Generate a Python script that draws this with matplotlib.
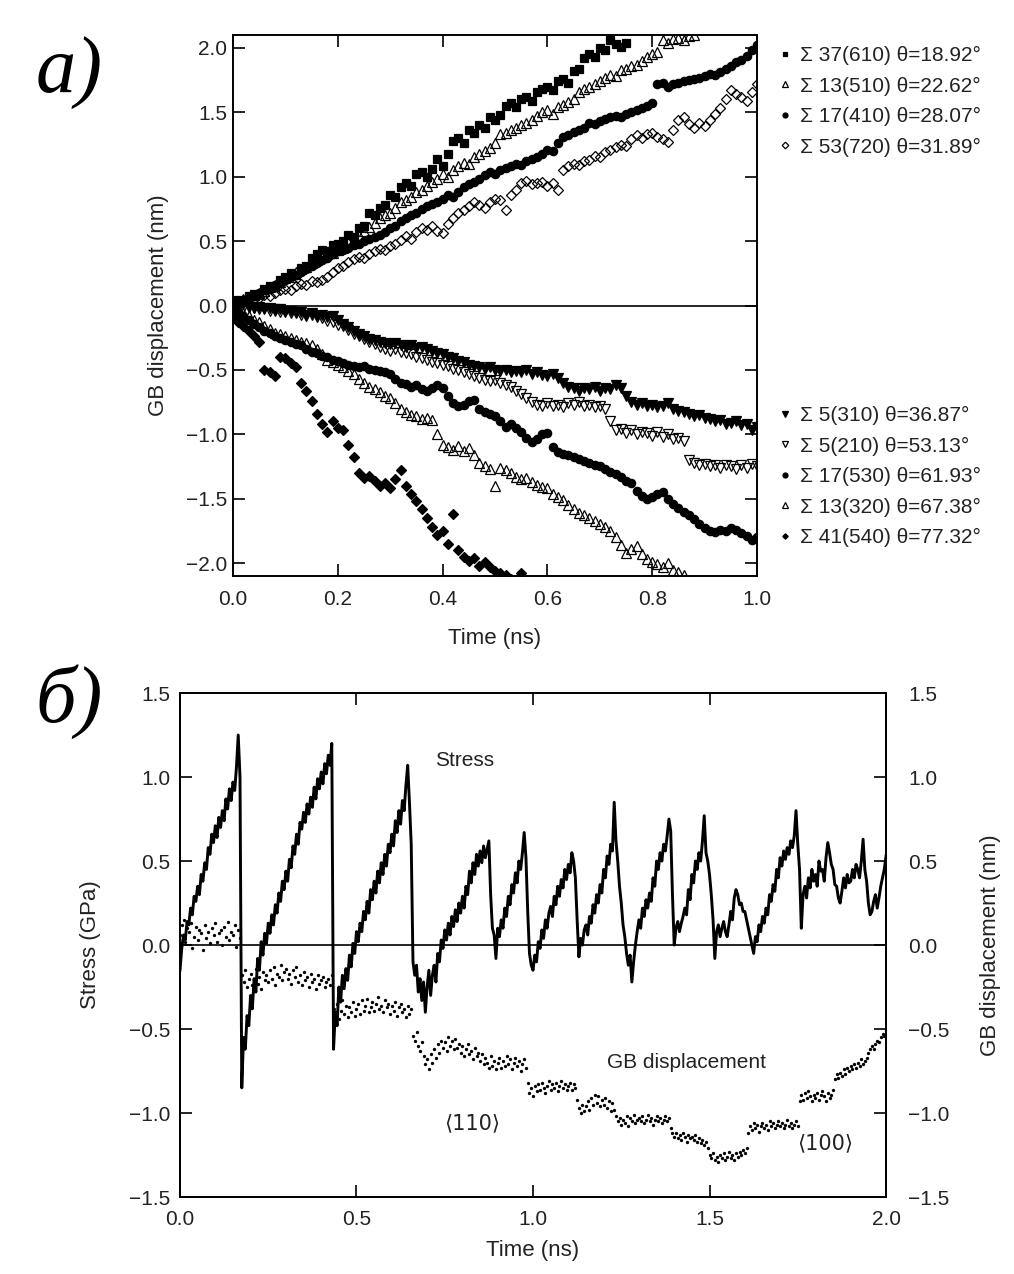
import matplotlib
matplotlib.use("Agg")
import matplotlib.pyplot as plt
import numpy as np
from matplotlib.ticker import FuncFormatter

plt.rcParams["font.family"] = ["Liberation Sans", "DejaVu Sans"]

# ── panel a: GB displacement (nm), sampled every 0.01 ns ──────────────────────
s37_610 = [0.02, 0.04, 0.03, 0.07, 0.09, 0.08, 0.13, 0.15, 0.14, 0.20,
           0.22, 0.25, 0.24, 0.29, 0.31, 0.37, 0.40, 0.43, 0.42, 0.47,
           0.48, 0.50, 0.55, 0.53, 0.60, 0.62, 0.72, 0.70, 0.76, 0.78,
           0.86, 0.84, 0.92, 0.95, 0.93, 1.02, 1.04, 1.00, 1.06, 1.14,
           1.08, 1.18, 1.28, 1.30, 1.26, 1.36, 1.34, 1.40, 1.38, 1.46,
           1.44, 1.48, 1.55, 1.57, 1.54, 1.60, 1.62, 1.59, 1.66, 1.68,
           1.70, 1.67, 1.74, 1.76, 1.73, 1.82, 1.84, 1.92, 1.95, 1.93,
           2.00, 1.98, 2.06, 2.03, 2.01, 2.04]
s13_510 = [0.01, 0.03, 0.05, 0.04, 0.08, 0.10, 0.11, 0.14, 0.16, 0.18,
           0.21, 0.22, 0.26, 0.28, 0.30, 0.33, 0.35, 0.38, 0.40, 0.41,
           0.43, 0.45, 0.49, 0.52, 0.55, 0.58, 0.61, 0.64, 0.68, 0.70,
           0.72, 0.76, 0.80, 0.82, 0.84, 0.88, 0.90, 0.93, 0.96, 0.98,
           1.02, 1.00, 1.05, 1.08, 1.11, 1.10, 1.15, 1.18, 1.20, 1.22,
           1.26, 1.33, 1.34, 1.36, 1.38, 1.40, 1.42, 1.44, 1.47, 1.50,
           1.52, 1.49, 1.54, 1.56, 1.58, 1.60, 1.66, 1.68, 1.70, 1.72,
           1.74, 1.77, 1.79, 1.78, 1.83, 1.84, 1.86, 1.87, 1.90, 1.93,
           1.95, 1.97, 2.06, 2.04, 2.07, 2.08, 2.06, 2.09, 2.10]
s17_410 = [0.00, 0.02, 0.04, 0.06, 0.07, 0.10, 0.12, 0.13, 0.16, 0.18,
           0.20, 0.22, 0.24, 0.26, 0.28, 0.31, 0.33, 0.35, 0.37, 0.40,
           0.42, 0.43, 0.45, 0.47, 0.48, 0.50, 0.52, 0.53, 0.55, 0.57,
           0.60, 0.62, 0.66, 0.68, 0.70, 0.72, 0.75, 0.77, 0.79, 0.80,
           0.83, 0.86, 0.84, 0.88, 0.92, 0.94, 0.96, 0.98, 1.01, 1.04,
           1.02, 1.05, 1.07, 1.08, 1.10, 1.09, 1.12, 1.14, 1.15, 1.18,
           1.21, 1.20, 1.26, 1.31, 1.32, 1.35, 1.36, 1.38, 1.42, 1.41,
           1.43, 1.45, 1.46, 1.47, 1.46, 1.49, 1.50, 1.52, 1.53, 1.55,
           1.57, 1.72, 1.73, 1.70, 1.72, 1.73, 1.74, 1.75, 1.76, 1.77,
           1.78, 1.80, 1.79, 1.81, 1.84, 1.86, 1.89, 1.91, 1.94, 1.98, 2.02]
s53_720 = [0.00, 0.01, 0.03, 0.02, 0.05, 0.06, 0.08, 0.07, 0.10, 0.12,
           0.13, 0.12, 0.15, 0.17, 0.16, 0.19, 0.18, 0.20, 0.22, 0.26,
           0.29, 0.31, 0.34, 0.36, 0.38, 0.37, 0.40, 0.42, 0.44, 0.43,
           0.46, 0.48, 0.51, 0.54, 0.52, 0.57, 0.60, 0.59, 0.62, 0.58,
           0.56, 0.63, 0.68, 0.72, 0.74, 0.77, 0.80, 0.78, 0.76, 0.80,
           0.83, 0.82, 0.74, 0.86, 0.90, 0.95, 0.97, 0.94, 0.95, 0.96,
           0.93, 0.95, 0.90, 1.05, 1.08, 1.10, 1.09, 1.12, 1.13, 1.16,
           1.15, 1.19, 1.21, 1.23, 1.25, 1.24, 1.29, 1.32, 1.30, 1.33,
           1.34, 1.31, 1.29, 1.27, 1.36, 1.44, 1.46, 1.41, 1.38, 1.42,
           1.39, 1.44, 1.49, 1.53, 1.60, 1.67, 1.64, 1.62, 1.59, 1.66, 1.72]
s5_310 = [0.00, -0.01, 0.01, -0.01, -0.02, -0.01, -0.03, -0.02, -0.04, -0.03,
          -0.05, -0.04, -0.06, -0.05, -0.07, -0.06, -0.08, -0.07, -0.09, -0.08,
          -0.11, -0.14, -0.17, -0.20, -0.22, -0.24, -0.26, -0.27, -0.28, -0.29,
          -0.30, -0.29, -0.31, -0.32, -0.31, -0.33, -0.32, -0.34, -0.35, -0.37,
          -0.38, -0.40, -0.41, -0.43, -0.44, -0.46, -0.47, -0.48, -0.49, -0.48,
          -0.50, -0.51, -0.50, -0.52, -0.51, -0.52, -0.50, -0.53, -0.52, -0.54,
          -0.55, -0.53, -0.56, -0.60, -0.63, -0.64, -0.66, -0.64, -0.65, -0.63,
          -0.66, -0.64, -0.65, -0.62, -0.64, -0.70, -0.75, -0.77, -0.76, -0.78,
          -0.77, -0.79, -0.78, -0.76, -0.80, -0.82, -0.83, -0.84, -0.86, -0.85,
          -0.87, -0.88, -0.90, -0.89, -0.92, -0.91, -0.90, -0.93, -0.92, -0.97, -0.94]
s5_210 = [-0.01, 0.00, -0.02, -0.01, -0.02, -0.03, -0.02, -0.04, -0.03, -0.05,
          -0.04, -0.06, -0.05, -0.07, -0.08, -0.07, -0.09, -0.10, -0.12, -0.13,
          -0.15, -0.16, -0.19, -0.22, -0.24, -0.26, -0.28, -0.30, -0.32, -0.34,
          -0.35, -0.34, -0.36, -0.37, -0.38, -0.40, -0.41, -0.42, -0.44, -0.45,
          -0.46, -0.47, -0.49, -0.50, -0.52, -0.53, -0.55, -0.56, -0.58, -0.59,
          -0.58, -0.60, -0.62, -0.63, -0.66, -0.69, -0.72, -0.75, -0.77, -0.78,
          -0.76, -0.78, -0.77, -0.79, -0.76, -0.77, -0.75, -0.78, -0.77, -0.79,
          -0.78, -0.80, -0.90, -0.97, -0.96, -0.99, -0.97, -1.00, -0.98, -0.99,
          -1.01, -0.98, -1.02, -1.00, -1.04, -1.03, -1.05, -1.20, -1.22, -1.24,
          -1.23, -1.25, -1.24, -1.26, -1.24, -1.25, -1.27, -1.24, -1.26, -1.23, -1.25]
s17_530 = [-0.02, -0.05, -0.08, -0.11, -0.14, -0.17, -0.20, -0.21, -0.24, -0.25,
           -0.27, -0.28, -0.30, -0.31, -0.34, -0.36, -0.37, -0.39, -0.40, -0.42,
           -0.43, -0.45, -0.46, -0.47, -0.48, -0.47, -0.49, -0.50, -0.51, -0.52,
           -0.53, -0.57, -0.60, -0.61, -0.63, -0.62, -0.65, -0.66, -0.64, -0.62,
           -0.64, -0.70, -0.76, -0.78, -0.77, -0.74, -0.73, -0.80, -0.83, -0.84,
           -0.86, -0.90, -0.94, -0.92, -0.95, -0.98, -1.03, -1.06, -1.04, -1.00,
           -0.99, -1.10, -1.14, -1.15, -1.16, -1.18, -1.19, -1.21, -1.22, -1.24,
           -1.25, -1.27, -1.29, -1.31, -1.33, -1.36, -1.38, -1.44, -1.48, -1.50,
           -1.49, -1.46, -1.45, -1.50, -1.54, -1.57, -1.60, -1.63, -1.66, -1.70,
           -1.73, -1.75, -1.76, -1.74, -1.75, -1.73, -1.74, -1.77, -1.79, -1.82, -1.80]
s13_320 = [-0.01, -0.03, -0.06, -0.08, -0.11, -0.13, -0.16, -0.18, -0.21, -0.22,
           -0.24, -0.25, -0.27, -0.28, -0.29, -0.31, -0.34, -0.38, -0.42, -0.44,
           -0.46, -0.48, -0.51, -0.53, -0.57, -0.60, -0.63, -0.65, -0.67, -0.70,
           -0.72, -0.76, -0.80, -0.83, -0.85, -0.86, -0.88, -0.87, -0.89, -1.00,
           -1.08, -1.10, -1.12, -1.09, -1.13, -1.11, -1.16, -1.22, -1.25, -1.27,
           -1.40, -1.26, -1.28, -1.30, -1.33, -1.35, -1.34, -1.37, -1.39, -1.41,
           -1.42, -1.46, -1.49, -1.51, -1.55, -1.58, -1.61, -1.63, -1.65, -1.67,
           -1.70, -1.72, -1.75, -1.80, -1.86, -1.92, -1.89, -1.87, -1.93, -1.97,
           -1.99, -2.01, -2.03, -2.00, -2.05, -2.07, -2.09]
s41_540 = [-0.10, -0.13, -0.16, -0.20, -0.24, -0.28, -0.50, -0.52, -0.55, -0.40,
           -0.41, -0.45, -0.48, -0.60, -0.66, -0.74, -0.84, -0.92, -0.98, -0.90,
           -0.95, -0.97, -1.08, -1.18, -1.30, -1.34, -1.32, -1.36, -1.40, -1.38,
           -1.42, -1.35, -1.28, -1.40, -1.46, -1.52, -1.58, -1.65, -1.72, -1.78,
           -1.75, -1.85, -1.62, -1.90, -1.95, -1.98, -1.96, -2.02, -1.99, -2.03,
           -2.06, -2.08, -2.09, -2.12, -2.15, -2.08]

labels_a = ["Σ 37(610) θ=18.92°", "Σ 13(510) θ=22.62°", "Σ 17(410) θ=28.07°",
            "Σ 53(720) θ=31.89°", "Σ 5(310) θ=36.87°", "Σ 5(210) θ=53.13°",
            "Σ 17(530) θ=61.93°", "Σ 13(320) θ=67.38°", "Σ 41(540) θ=77.32°"]
series_a = [s37_610, s13_510, s17_410, s53_720, s5_310, s5_210, s17_530, s13_320, s41_540]

# ── panel б: stress (GPa) and GB displacement (nm), every 0.005 ns ─────────────
stress = [
    -0.15, -0.02, 0.06, 0.03, 0.14, 0.12, 0.22, 0.18, 0.29, 0.26,
    0.35, 0.30, 0.42, 0.38, 0.49, 0.45, 0.58, 0.54, 0.66, 0.61,
    0.71, 0.64, 0.76, 0.70, 0.80, 0.74, 0.87, 0.81, 0.93, 0.86,
    0.97, 0.92, 1.06, 1.25, 1.00, -0.85, -0.55, -0.62, -0.42, -0.48,
    -0.30, -0.38, -0.20, -0.28, -0.08, -0.15, 0.02, -0.06, 0.07, 0.01,
    0.13, 0.07, 0.18, 0.12, 0.24, 0.19, 0.31, 0.26, 0.38, 0.33,
    0.44, 0.38, 0.51, 0.46, 0.59, 0.54, 0.66, 0.60, 0.73, 0.69,
    0.79, 0.73, 0.84, 0.78, 0.88, 0.82, 0.94, 0.87, 0.99, 0.93,
    1.03, 0.96, 1.08, 1.02, 1.13, 1.07, 1.20, -0.62, -0.40, -0.48,
    -0.25, -0.34, -0.18, -0.26, -0.14, -0.21, -0.06, -0.13, 0.01, -0.05,
    0.08, 0.02, 0.13, 0.08, 0.20, 0.15, 0.26, 0.19, 0.33, 0.27,
    0.38, 0.31, 0.44, 0.37, 0.49, 0.42, 0.54, 0.47, 0.60, 0.55,
    0.66, 0.59, 0.74, 0.67, 0.80, 0.72, 0.86, 0.80, 0.95, 1.07,
    0.85, 0.60, -0.10, -0.18, -0.12, -0.28, -0.20, -0.33, -0.22, -0.40,
    -0.25, -0.15, -0.30, -0.18, -0.12, -0.22, -0.05, -0.10, 0.03, -0.02,
    0.09, 0.03, 0.13, 0.06, 0.17, 0.11, 0.21, 0.14, 0.25, 0.19,
    0.29, 0.22, 0.35, 0.30, 0.44, 0.37, 0.49, 0.42, 0.54, 0.47,
    0.56, 0.49, 0.59, 0.52, 0.57, 0.62, 0.30, 0.10, 0.06, -0.08,
    0.10, 0.05, 0.15, 0.10, 0.22, 0.17, 0.29, 0.24, 0.36, 0.31,
    0.43, 0.37, 0.50, 0.45, 0.55, 0.67, 0.52, 0.20, -0.05, -0.12,
    -0.15, -0.06, -0.10, 0.02, -0.02, 0.09, 0.04, 0.15, 0.10, 0.19,
    0.23, 0.17, 0.29, 0.24, 0.35, 0.29, 0.39, 0.34, 0.45, 0.39,
    0.48, 0.43, 0.55, 0.50, 0.40, 0.15, -0.07, 0.04, 0.00, 0.09,
    0.12, 0.06, 0.17, 0.13, 0.24, 0.19, 0.30, 0.25, 0.36, 0.31,
    0.45, 0.40, 0.53, 0.48, 0.60, 0.56, 0.85, 0.62, 0.50, 0.35,
    0.25, 0.12, 0.05, -0.05, -0.12, -0.06, -0.22, -0.10, 0.00, 0.08,
    0.15, 0.10, 0.22, 0.17, 0.27, 0.22, 0.31, 0.26, 0.40, 0.35,
    0.50, 0.45, 0.55, 0.50, 0.60, 0.56, 0.65, 0.75, 0.68, 0.30,
    0.00, 0.10, 0.14, 0.08, 0.13, 0.17, 0.22, 0.18, 0.33, 0.27,
    0.42, 0.37, 0.50, 0.45, 0.55, 0.50, 0.62, 0.77, 0.55, 0.50,
    0.42, 0.30, 0.15, -0.08, 0.08, 0.12, 0.05, 0.10, 0.14, 0.08,
    0.05, 0.12, 0.20, 0.15, 0.28, 0.33, 0.30, 0.24, 0.25, 0.20,
    0.20, 0.15, 0.10, 0.05, 0.00, -0.05, 0.05, 0.02, 0.12, 0.08,
    0.17, 0.13, 0.22, 0.18, 0.30, 0.26, 0.36, 0.32, 0.45, 0.40,
    0.52, 0.47, 0.56, 0.51, 0.58, 0.54, 0.62, 0.58, 0.65, 0.80,
    0.60, 0.45, 0.10, 0.30, 0.35, 0.28, 0.40, 0.34, 0.45, 0.38,
    0.42, 0.35, 0.50, 0.44, 0.45, 0.38, 0.52, 0.61, 0.55, 0.48,
    0.45, 0.36, 0.35, 0.28, 0.25, 0.32, 0.40, 0.34, 0.42, 0.37,
    0.38, 0.45, 0.40, 0.48, 0.45, 0.40, 0.50, 0.63, 0.45, 0.38,
    0.25, 0.18, 0.20, 0.26, 0.30, 0.22, 0.28, 0.35, 0.40, 0.45,
    0.53]
gb_disp = [
    0.06, 0.12, 0.15, 0.02, 0.10, 0.08, 0.13, -0.02, 0.05, 0.11,
    0.03, 0.09, 0.07, -0.03, 0.12, 0.04, 0.08, 0.01, 0.10, 0.06,
    0.13, 0.02, 0.07, 0.09, 0.00, 0.11, 0.05, 0.14, 0.03, 0.08,
    0.06, 0.12, -0.01, 0.09, 0.04, -0.18, -0.22, -0.15, -0.25, -0.20,
    -0.17, -0.24, -0.21, -0.14, -0.23, -0.19, -0.26, -0.16, -0.21, -0.18,
    -0.22, -0.15, -0.20, -0.13, -0.24, -0.17, -0.19, -0.12, -0.21, -0.16,
    -0.14, -0.20, -0.17, -0.23, -0.15, -0.19, -0.13, -0.22, -0.18, -0.24,
    -0.16, -0.21, -0.19, -0.25, -0.17, -0.22, -0.20, -0.26, -0.18, -0.23,
    -0.21, -0.19, -0.25, -0.22, -0.20, -0.24, -0.18, -0.38, -0.42, -0.35,
    -0.44, -0.39, -0.33, -0.41, -0.36, -0.43, -0.37, -0.40, -0.34, -0.42,
    -0.38, -0.35, -0.41, -0.33, -0.39, -0.36, -0.32, -0.40, -0.37, -0.34,
    -0.39, -0.35, -0.31, -0.38, -0.36, -0.40, -0.33, -0.37, -0.35, -0.41,
    -0.36, -0.39, -0.34, -0.42, -0.37, -0.35, -0.40, -0.38, -0.43, -0.36,
    -0.41, -0.38, -0.54, -0.57, -0.52, -0.60, -0.63, -0.58, -0.66, -0.71,
    -0.68, -0.74, -0.65, -0.70, -0.62, -0.67, -0.59, -0.64, -0.57, -0.61,
    -0.58, -0.63, -0.55, -0.60, -0.57, -0.62, -0.56, -0.61, -0.59, -0.64,
    -0.60, -0.66, -0.62, -0.59, -0.65, -0.63, -0.68, -0.61, -0.66, -0.64,
    -0.69, -0.65, -0.71, -0.67, -0.70, -0.73, -0.66, -0.72, -0.69, -0.74,
    -0.70, -0.67, -0.73, -0.69, -0.72, -0.66, -0.71, -0.68, -0.74, -0.70,
    -0.67, -0.72, -0.69, -0.75, -0.71, -0.68, -0.73, -0.82, -0.88, -0.85,
    -0.90, -0.84, -0.87, -0.83, -0.86, -0.82, -0.85, -0.88, -0.84, -0.81,
    -0.86, -0.83, -0.85, -0.82, -0.87, -0.84, -0.81, -0.85, -0.83, -0.86,
    -0.84, -0.82, -0.86, -0.83, -0.85, -0.92, -0.97, -1.00, -0.95, -0.99,
    -0.96, -0.93, -0.98, -0.91, -0.95, -0.89, -0.94, -0.90, -0.96, -0.92,
    -0.95, -0.91, -0.97, -0.93, -0.99, -0.94, -0.98, -1.02, -1.05, -1.03,
    -1.07, -1.04, -1.06, -1.02, -1.08, -1.03, -1.05, -1.01, -1.06, -1.04,
    -1.03, -1.05, -1.02, -1.06, -1.04, -1.01, -1.05, -1.03, -1.07, -1.04,
    -1.02, -1.05, -1.03, -1.06, -1.04, -1.02, -1.05, -1.03, -1.09, -1.12,
    -1.14, -1.12, -1.15, -1.13, -1.16, -1.12, -1.14, -1.17, -1.13, -1.15,
    -1.14, -1.16, -1.13, -1.17, -1.15, -1.18, -1.16, -1.19, -1.17, -1.21,
    -1.25, -1.27, -1.24, -1.28, -1.26, -1.29, -1.25, -1.27, -1.24, -1.28,
    -1.26, -1.23, -1.27, -1.25, -1.28, -1.24, -1.26, -1.23, -1.25, -1.22,
    -1.24, -1.21, -1.12, -1.08, -1.10, -1.06, -1.09, -1.07, -1.11, -1.08,
    -1.06, -1.09, -1.07, -1.10, -1.05, -1.08, -1.06, -1.09, -1.07, -1.05,
    -1.08, -1.06, -1.09, -1.07, -1.04, -1.08, -1.06, -1.09, -1.07, -1.05,
    -1.08, -0.93, -0.89, -0.92, -0.88, -0.91, -0.87, -0.90, -0.93, -0.89,
    -0.91, -0.88, -0.92, -0.89, -0.87, -0.90, -0.93, -0.88, -0.91, -0.89,
    -0.86, -0.80, -0.77, -0.79, -0.76, -0.78, -0.74, -0.77, -0.73, -0.75,
    -0.72, -0.74, -0.71, -0.73, -0.70, -0.72, -0.68, -0.71, -0.69, -0.67,
    -0.64, -0.62, -0.60, -0.62, -0.59, -0.57, -0.58, -0.55, -0.53, -0.54,
    -0.51]

t_a = np.arange(101) * 0.01
t_b = np.arange(len(stress)) * 0.005

TXT = "#222222"
FS = 15
fmt = FuncFormatter(lambda v, _: f"{v:.1f}".replace("-", "\u2212"))

fig = plt.figure(figsize=(10.14, 12.74), dpi=100)


def style(ax):
    for sp in ax.spines.values():
        sp.set_linewidth(1.4)
    ax.tick_params(direction="in", length=8.5, width=1.2, labelsize=FS,
                   labelcolor=TXT)


# ── panel a ────────────────────────────────────────────────────────────────────
ax = fig.add_axes([0.2298, 0.5479, 0.5168, 0.4246])
markers = [
    dict(marker="s", ms=6.0, mfc="black"),
    dict(marker="^", ms=7.0, mfc="none"),
    dict(marker="o", ms=6.0, mfc="black"),
    dict(marker="D", ms=5.6, mfc="none"),
    dict(marker="v", ms=7.0, mfc="black"),
    dict(marker="v", ms=7.0, mfc="none"),
    dict(marker="o", ms=6.0, mfc="black"),
    dict(marker="^", ms=7.0, mfc="none"),
    dict(marker="D", ms=4.6, mfc="black"),
]
lines = []
for y, lab, mk in zip(series_a, labels_a, markers):
    ln, = ax.plot(t_a[:len(y)], y, ls="none", mec="black", mew=0.9,
                  label=lab, **mk)
    lines.append(ln)
ax.axhline(0, color="black", lw=1.2)
ax.set_xlim(0, 1.0)
ax.set_ylim(-2.1, 2.1)
ax.set_xticks(np.arange(0, 1.01, 0.2))
ax.set_yticks(np.arange(-2.0, 2.01, 0.5))
ax.xaxis.set_major_formatter(fmt)
ax.yaxis.set_major_formatter(fmt)
style(ax)
ax.tick_params(top=True, right=True)
ax.tick_params(axis="y", pad=4)
ax.tick_params(axis="x", pad=10)
ax.set_xlabel("Time (ns)", fontsize=16, color=TXT, labelpad=14)
ax.set_ylabel("GB displacement (nm)", fontsize=16, color=TXT, labelpad=12)

leg_kw = dict(loc="upper left", bbox_transform=fig.transFigure, frameon=False,
              borderpad=0, borderaxespad=0, handlelength=0.7,
              handletextpad=0.35, labelspacing=0.55, markerscale=0.6,
              fontsize=FS, labelcolor=TXT)
leg1 = ax.legend(handles=lines[:4], bbox_to_anchor=(778 / 1014, 1 - 46 / 1274), **leg_kw)
ax.add_artist(leg1)
ax.legend(handles=lines[4:], bbox_to_anchor=(778 / 1014, 1 - 406 / 1274), **leg_kw)

# ── panel б ────────────────────────────────────────────────────────────────────
axb = fig.add_axes([0.1775, 0.0604, 0.6963, 0.3956])
axb.plot(t_b, stress, color="black", lw=2.1)
axb.axhline(0, color="black", lw=1.2)
axb.set_xlim(0, 2.0)
axb.set_ylim(-1.5, 1.5)
axb.set_xticks(np.arange(0, 2.01, 0.5))
axb.set_yticks(np.arange(-1.5, 1.51, 0.5))
axb.xaxis.set_major_formatter(fmt)
axb.yaxis.set_major_formatter(fmt)
style(axb)
axb.tick_params(top=True, right=False)
axb.tick_params(axis="y", pad=7)
axb.tick_params(axis="x", pad=9)
axb.set_xlabel("Time (ns)", fontsize=16, color=TXT, labelpad=8)
axb.set_ylabel("Stress (GPa)", fontsize=16, color=TXT, labelpad=20)

ax2 = axb.twinx()
ax2.plot(t_b, gb_disp, ls="none", marker="o", ms=2.4, mew=0, color="black")
ax2.set_ylim(-1.5, 1.5)
ax2.set_yticks(np.arange(-1.5, 1.51, 0.5))
ax2.yaxis.set_major_formatter(fmt)
style(ax2)
ax2.tick_params(axis="y", pad=16)
ax2.set_ylabel("GB displacement (nm)", fontsize=16, color=TXT, labelpad=22)

axb.text(0.807, 1.10, "Stress", fontsize=FS, color=TXT, ha="center", va="center")
axb.text(1.436, -0.70, "GB displacement", fontsize=FS, color=TXT, ha="center", va="center")
axb.text(0.827, -1.06, "⟨110⟩", fontsize=FS, color=TXT, ha="center", va="center",
         family=["DejaVu Sans"])
axb.text(1.827, -1.18, "⟨100⟩", fontsize=FS, color=TXT, ha="center", va="center",
         family=["DejaVu Sans"])

# panel letters
fig.text(69 / 1014, 1 - 73 / 1274, "a)", fontsize=58, style="italic",
         family=["Liberation Serif"], ha="center", va="center")
fig.text(69 / 1014, 1 - 702 / 1274, "б)", fontsize=58, style="italic",
         family=["Liberation Serif"], ha="center", va="center")

fig.savefig("out.png", dpi=100, facecolor="white")
